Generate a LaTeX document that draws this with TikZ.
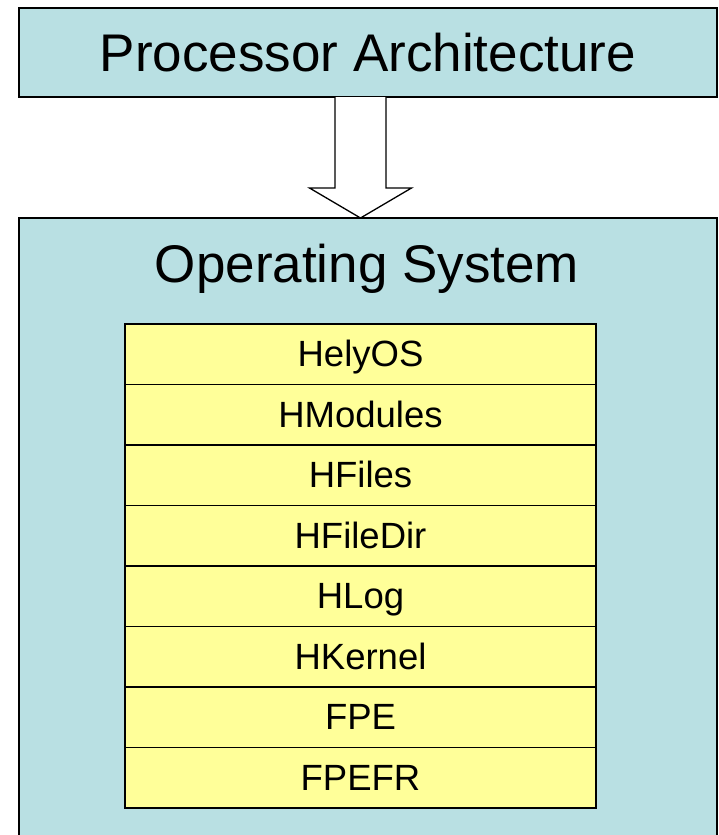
\documentclass[tikz,border=0pt]{standalone}
\usepackage{fontspec}
\setmainfont{Liberation Sans}
\usetikzlibrary{calc}
\definecolor{boxblue}{RGB}{185,224,227}
\definecolor{layeryellow}{RGB}{255,255,153}
\begin{document}
\begin{tikzpicture}[x=1pt,y=-1pt,
  bigbox/.style={draw=black, line width=1.3pt, fill=boxblue, inner sep=0pt, outer sep=0pt, anchor=north west},
  bigfont/.style={font=\fontsize{53}{60}\selectfont},
  layer/.style={draw=black, line width=1.6pt, fill=layeryellow, minimum width=471pt, minimum height=60.5pt, inner sep=0pt, outer sep=0pt, anchor=north, text height=25pt, text depth=0pt, font=\fontsize{36.5}{40}\selectfont},
  arrowline/.style={draw=black, line width=1.3pt, fill=white, line join=miter}
]
\useasboundingbox (0,0) rectangle (719,835);
\clip (0,0) rectangle (719,835);
\node[bigbox, bigfont, minimum width=698pt, minimum height=89pt, text height=38pt, text depth=0pt] (pa) at (19,8) {Processor Architecture};
\node[bigbox, minimum width=698pt, minimum height=640pt] (os) at (19,218) {};
\node[bigfont, anchor=base, inner sep=0pt] (ostitle) at (367,282) {Operating System};
\node[layer] (l1) at (360.5,324) {HelyOS};
\node[layer] (l2) at (l1.south) {HModules};
\node[layer] (l3) at (l2.south) {HFiles};
\node[layer] (l4) at (l3.south) {HFileDir};
\node[layer] (l5) at (l4.south) {HLog};
\node[layer] (l6) at (l5.south) {HKernel};
\node[layer] (l7) at (l6.south) {FPE};
\node[layer] (l8) at (l7.south) {FPEFR};
\coordinate (atop) at (pa.south -| l1.north);
\coordinate (abot) at (os.north -| l1.north);
\draw[arrowline] ($(atop)+(-25.5,0)$) -- ($(abot)+(-25.5,-30)$) -- ($(abot)+(-51,-30)$) -- (abot) -- ($(abot)+(51,-30)$) -- ($(abot)+(25.5,-30)$) -- ($(atop)+(25.5,0)$);
\end{tikzpicture}
\end{document}
